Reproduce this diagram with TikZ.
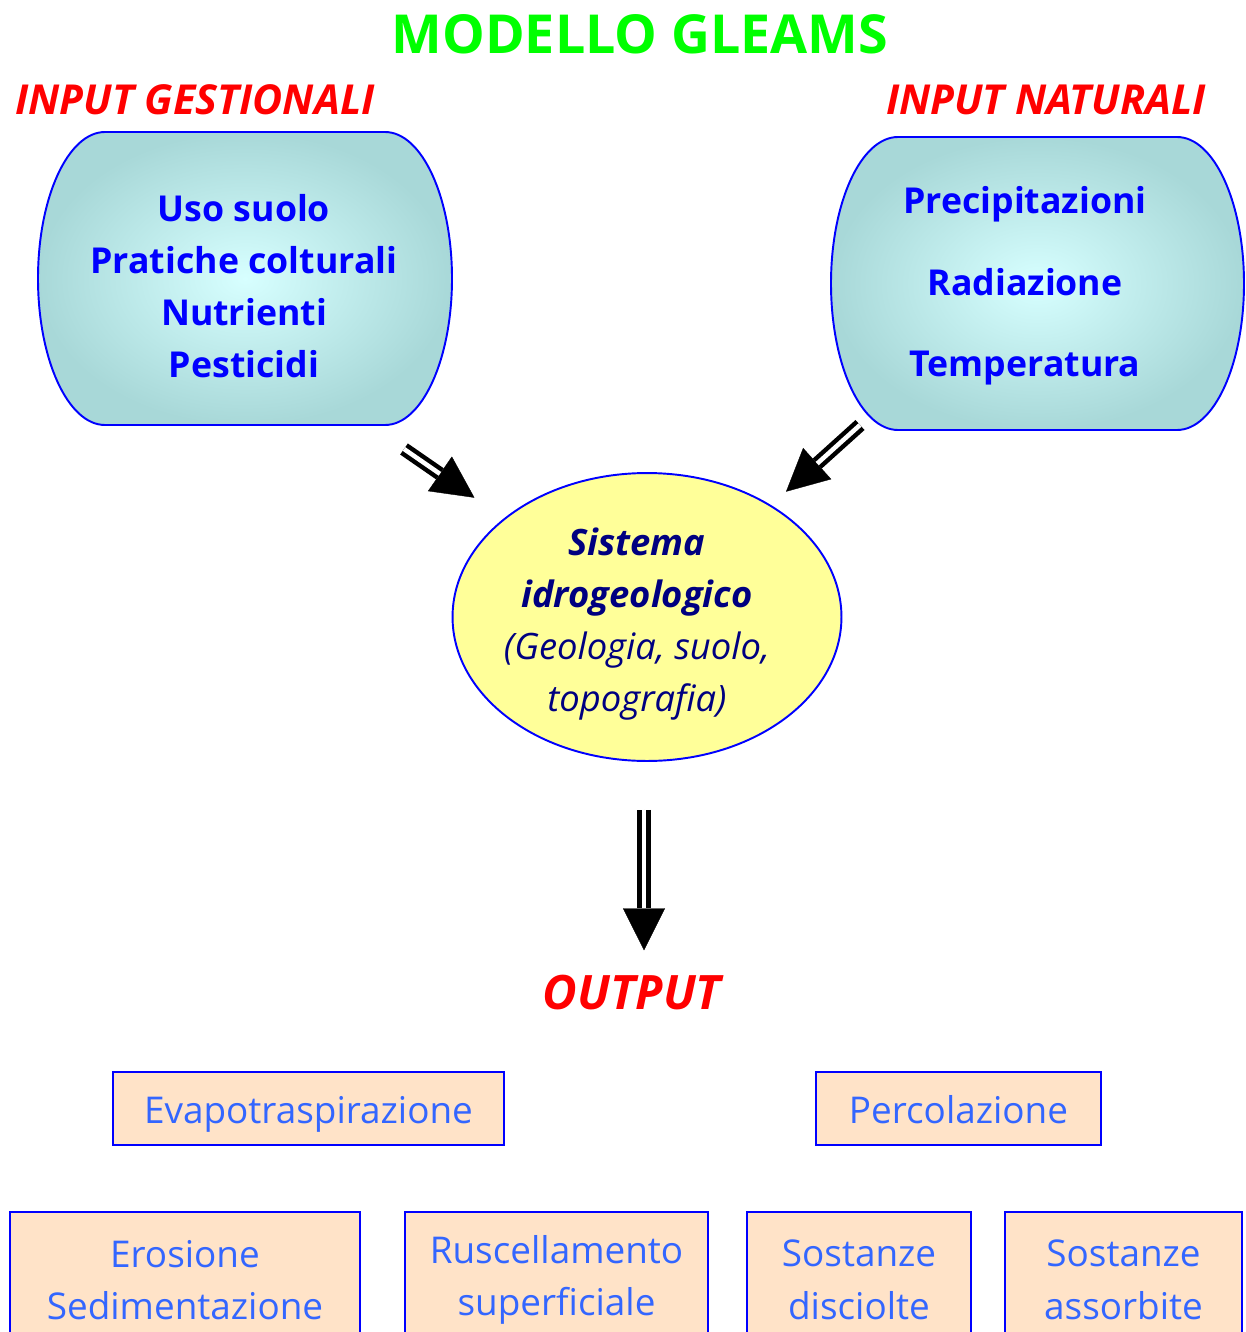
\documentclass[tikz,border=0pt]{standalone}
\usepackage{fontspec}
\setmainfont{Open Sans}
\usetikzlibrary{arrows.meta,calc,shapes.geometric}

\definecolor{titlegreen}{RGB}{0,255,0}
\definecolor{inred}{RGB}{255,0,0}
\definecolor{boxblue}{RGB}{0,0,255}
\definecolor{cyanin}{RGB}{215,255,255}
\definecolor{cyanout}{RGB}{168,216,216}
\definecolor{lemon}{RGB}{255,255,153}
\definecolor{navytext}{RGB}{0,0,128}
\definecolor{peach}{RGB}{255,227,200}
\definecolor{outblue}{RGB}{51,102,255}

\tikzset{
    gleams title/.style={
      font=\fontsize{30.6}{30.6}\selectfont\bfseries,
      text=titlegreen
    },
    input label/.style={
      font=\fontsize{23.5}{23.5}\selectfont\bfseries\itshape,
      text=inred
    },
    input shape/.style={
      draw=boxblue,
      line width=1.1pt,
      inner color=cyanin,
      outer color=cyanout
    },
    input text/.style={
      font=\fontsize{20.3}{29.5}\selectfont\bfseries,
      text=boxblue,
      align=center
    },
    system ellipse/.style={
      ellipse,
      draw=boxblue,
      line width=1.1pt,
      fill=lemon,
      minimum width=7.78cm,
      minimum height=5.76cm,
      inner sep=0pt
    },
    system text/.style={
      font=\fontsize{20.7}{29.5}\selectfont\itshape,
      text=navytext,
      align=center
    },
    output box/.style={
      draw=boxblue,
      line width=1.1pt,
      fill=peach,
      minimum height=1.46cm,
      inner sep=0pt,
      font=\fontsize{21}{30}\selectfont,
      text=outblue,
      align=center
    },
    single line/.style={
      text height=0.76cm,
      text depth=0.18cm
    },
    fat shaft/.style={
      draw=black,
      line width=0.09cm,
      double=white,
      double distance=0.09cm
    },
    fat head/.style={
      draw=black,
      line width=0.2pt,
      -{Triangle[length=0.84cm,width=0.84cm]}
    }
  }

\begin{document}
\begin{tikzpicture}[x=0.02cm,y=-0.02cm]
      \useasboundingbox (0,0) rectangle (1246,1332);

      % titolo
      \node[gleams title] (title) at (640,34) {MODELLO GLEAMS};
      \node[input label] (gestlabel) at (195,100) {INPUT GESTIONALI};
      \node[input label] (natulabel) at (1046,100) {INPUT NATURALI};

      % input
      \shadedraw[input shape] (105,132) -- (385,132)
        arc[start angle=-90, end angle=90, x radius=67, y radius=146.5]
        -- (105,425)
        arc[start angle=90, end angle=270, x radius=67, y radius=146.5] -- cycle;
      \shadedraw[input shape] (898,137) -- (1177,137)
        arc[start angle=-90, end angle=90, x radius=67, y radius=146.5]
        -- (898,430)
        arc[start angle=90, end angle=270, x radius=67, y radius=146.5] -- cycle;
      \node[input text] (gest) at (244,286)
        {Uso suolo\\Pratiche colturali\\Nutrienti\\Pesticidi};
      \node[input text, font=\fontsize{20.3}{46.5}\selectfont\bfseries] (natu) at (1025,286)
        {Precipitazioni\\Radiazione\\Temperatura};

      % sistema
      \node[system ellipse] (sys) at (647,617) {};
      \node[system text] (systext) at (637,624)
        {\textbf{Sistema}\\\textbf{idrogeologico}\\(Geologia, suolo,\\topografia)};

      % output
      \node[input label, font=\fontsize{27}{27}\selectfont\bfseries\itshape] (out) at (632,993) {OUTPUT};
      \node[output box, single line, minimum width=7.82cm] (evapo) at (308.5,1108.5) {Evapotraspirazione};
      \node[output box, single line, minimum width=5.7cm] (perco) at (958.5,1108.5) {Percolazione};
      \node[output box, minimum width=7cm, minimum height=2.72cm] (erosione) at (185,1280)
        {Erosione\\Sedimentazione};
      \node[output box, minimum width=6.06cm, minimum height=2.72cm] (rusc) at (556.5,1280)
        {Ruscellamento\\superficiale};
      \node[output box, minimum width=4.48cm, minimum height=2.72cm] (disc) at (859,1280)
        {Sostanze\\disciolte};
      \node[output box, minimum width=4.74cm, minimum height=2.72cm] (assorb) at (1123.5,1280)
        {Sostanze\\assorbite};

      % frecce
      \coordinate (gestarrow) at (404,449);
      \coordinate (natuarrow) at (860,425);
      \draw[fat head, shorten >=0.72cm] (gestarrow) -- (sys);
      \draw[fat shaft, shorten >=1.56cm] (gestarrow) -- (sys);
      \draw[fat head, shorten >=0.4cm] (natuarrow) -- (sys);
      \draw[fat shaft, shorten >=1.24cm] (natuarrow) -- (sys);
      \draw[fat head, shorten <=0.96cm, shorten >=0.38cm] ([xshift=-0.06cm]sys.south) -- ([xshift=-0.06cm]sys.south |- out.north);
      \draw[fat shaft, shorten <=0.96cm, shorten >=1.22cm] ([xshift=-0.06cm]sys.south) -- ([xshift=-0.06cm]sys.south |- out.north);
    \end{tikzpicture}
\end{document}
